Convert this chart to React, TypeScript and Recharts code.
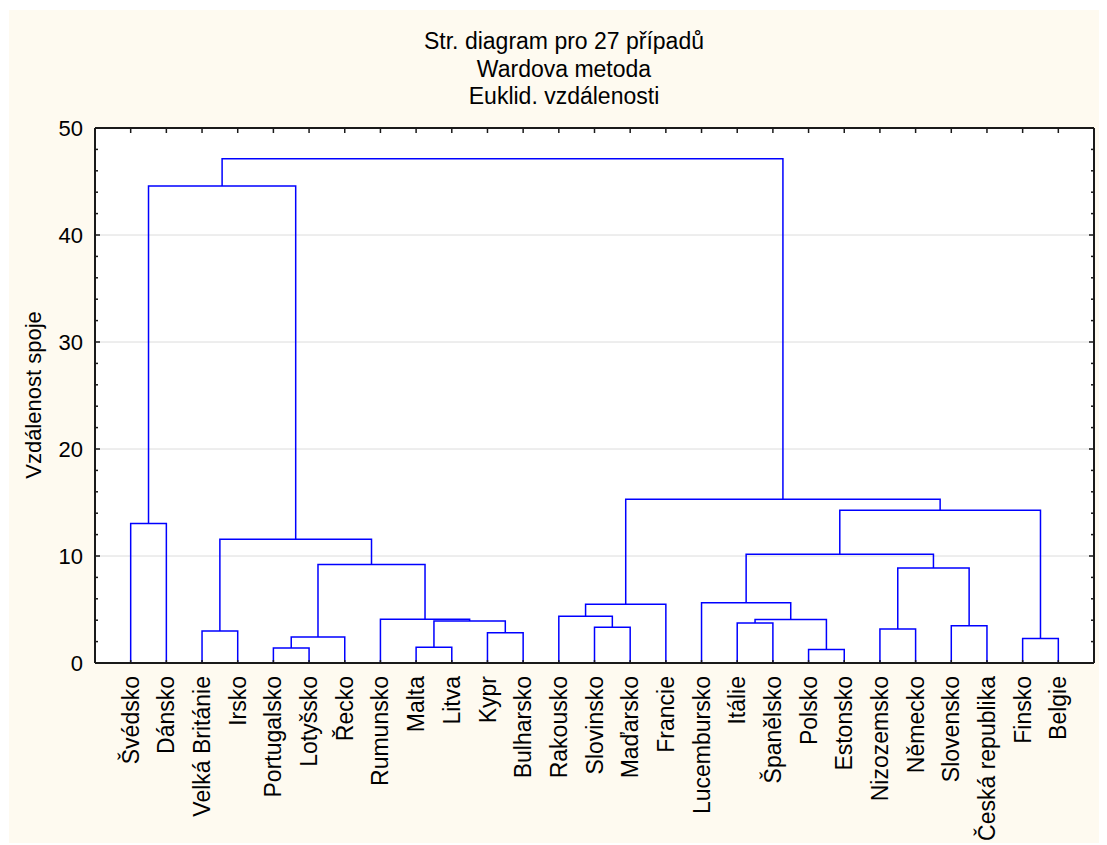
import React from 'react';
import { LineChart, Line, XAxis, YAxis, CartesianGrid } from 'recharts';

// Leaf labels (cases) in dendrogram order
const leafNames = [
  'Švédsko', 'Dánsko', 'Velká Británie', 'Irsko', 'Portugalsko', 'Lotyšsko', 'Řecko',
  'Rumunsko', 'Malta', 'Litva', 'Kypr', 'Bulharsko', 'Rakousko', 'Slovinsko', 'Maďarsko',
  'Francie', 'Lucembursko', 'Itálie', 'Španělsko', 'Polsko', 'Estonsko', 'Nizozemsko',
  'Německo', 'Slovensko', 'Česká republika', 'Finsko', 'Belgie',
];

// Merge steps: node ids < 27 are leaves, node 27+k is the result of merge k
const mergeA = [0, 2, 4, 29, 8, 10, 31, 7, 30, 28, 27, 13, 12, 39, 17, 19, 41, 16, 21, 23, 45, 44, 25, 48, 40, 37];
const mergeB = [1, 3, 5, 6, 9, 11, 32, 33, 34, 35, 36, 14, 38, 15, 18, 20, 42, 43, 22, 24, 46, 47, 26, 49, 50, 51];
const mergeHeight = [
  13.03, 3.0, 1.4, 2.43, 1.47, 2.83, 3.93, 4.1, 9.2, 11.57, 44.57, 3.33, 4.37, 5.5, 3.73,
  1.27, 4.07, 5.63, 3.17, 3.47, 8.87, 10.17, 2.3, 14.27, 15.3, 47.13,
];

const yDomain = [0, 50];
const yMinorTicks = [0, 2, 4, 6, 8, 10, 12, 14, 16, 18, 20, 22, 24, 26, 28, 30, 32, 34, 36, 38, 40, 42, 44, 46, 48, 50];
const gridValues = [10, 20, 30, 40];
const titleLines = ['Str. diagram pro 27 případů', 'Wardova metoda', 'Euklid. vzdálenosti'];
const yTitle = 'Vzdálenost spoje';

const FONT = '"Liberation Sans", Arial, sans-serif';
const BLUE = '#0000FF';
const FRAME = '#1a1a1a';

// build link series from the merge arrays
const nodePos: number[] = leafNames.map((_, i) => i + 1);
const nodeH: number[] = leafNames.map(() => 0);
const links: { x: number; y: number }[][] = [];
mergeA.forEach((a, k) => {
  const b = mergeB[k];
  const h = mergeHeight[k];
  links.push([
    { x: nodePos[a], y: nodeH[a] },
    { x: nodePos[a], y: h },
    { x: nodePos[b], y: h },
    { x: nodePos[b], y: nodeH[b] },
  ]);
  nodePos.push((nodePos[a] + nodePos[b]) / 2);
  nodeH.push(h);
});
const leafTicks = leafNames.map((_, i) => i + 1);

const W = 1098;
const H = 835;

const gridGen = (p: any) => {
  const sc = p && p.yAxis ? p.yAxis.scale : null;
  return gridValues.map((v) => {
    if (typeof sc === 'function') return sc(v);
    if (sc && typeof sc.map === 'function') return sc.map(v);
    const off = p.offset;
    return off.top + off.height * (1 - (v - yDomain[0]) / (yDomain[1] - yDomain[0]));
  });
};

const BottomTick = (props: any) => {
  const { x, y, payload } = props;
  const name = leafNames[payload.value - 1];
  return (
    <g>
      <line x1={x} y1={y} x2={x} y2={y - 3} stroke={FRAME} strokeWidth={1.5} />
      <text
        transform={`translate(${x},${y + 13}) rotate(-90)`}
        textAnchor="end"
        dy="0.35em"
        fontSize={23}
        fontFamily={FONT}
        fill="#000"
      >
        {name}
      </text>
    </g>
  );
};

const TopTick = (props: any) => {
  const { x, y } = props;
  return <line x1={x} y1={y} x2={x} y2={y + 5} stroke={FRAME} strokeWidth={1.5} />;
};

const LeftTick = (props: any) => {
  const { x, y, payload } = props;
  const major = payload.value % 10 === 0;
  return (
    <g>
      <line x1={x} y1={y} x2={x + (major ? 5 : 3)} y2={y} stroke={FRAME} strokeWidth={1.5} />
      {major && (
        <text x={x - 12} y={y} dy="0.35em" textAnchor="end" fontSize={22} fontFamily={FONT} fill="#000">
          {payload.value}
        </text>
      )}
    </g>
  );
};

const RightTick = (props: any) => {
  const { x, y, payload } = props;
  const major = payload.value % 10 === 0;
  return <line x1={x} y1={y} x2={x - (major ? 5 : 3)} y2={y} stroke={FRAME} strokeWidth={1.5} />;
};

export default function App() {
  return (
    <div style={{ position: 'relative', left: 1, top: 2, width: W, height: H, background: '#FEFAF0' }}>
      <LineChart width={W} height={H} margin={{ top: 117, right: 1, bottom: 0, left: 0 }}>
        <CartesianGrid
          xAxisId="b"
          yAxisId="l"
          vertical={false}
          fill="#ffffff"
          fillOpacity={1}
          stroke="#dcdcdc"
          strokeWidth={1}
          horizontalCoordinatesGenerator={gridGen}
        />
        <XAxis
          xAxisId="b"
          dataKey="x"
          type="number"
          domain={[0, 28]}
          allowDataOverflow
          ticks={leafTicks}
          interval={0}
          orientation="bottom"
          height={182}
          tickSize={0}
          tickMargin={0}
          tickLine={false}
          axisLine={{ stroke: FRAME, strokeWidth: 2 }}
          tick={<BottomTick />}
        />
        <XAxis
          xAxisId="t"
          dataKey="x"
          type="number"
          domain={[0, 28]}
          allowDataOverflow
          ticks={leafTicks}
          interval={0}
          orientation="top"
          height={1}
          tickSize={0}
          tickMargin={0}
          tickLine={false}
          axisLine={{ stroke: FRAME, strokeWidth: 2 }}
          tick={<TopTick />}
        />
        <YAxis
          yAxisId="l"
          type="number"
          domain={yDomain}
          allowDataOverflow
          ticks={yMinorTicks}
          interval={0}
          width={86}
          tickSize={0}
          tickMargin={0}
          tickLine={false}
          axisLine={{ stroke: FRAME, strokeWidth: 2 }}
          tick={<LeftTick />}
        />
        <YAxis
          yAxisId="r"
          type="number"
          orientation="right"
          domain={yDomain}
          allowDataOverflow
          ticks={yMinorTicks}
          interval={0}
          width={12}
          tickSize={0}
          tickMargin={0}
          tickLine={false}
          axisLine={{ stroke: FRAME, strokeWidth: 2 }}
          tick={<RightTick />}
        />
        {links.map((d, i) => (
          <Line
            key={i}
            xAxisId="b"
            yAxisId="l"
            data={d}
            dataKey="y"
            type="linear"
            stroke={BLUE}
            strokeWidth={1.5}
            dot={false}
            activeDot={false}
            isAnimationActive={false}
          />
        ))}
      </LineChart>
      <svg
        width={W}
        height={H}
        style={{ position: 'absolute', left: 0, top: 0, pointerEvents: 'none' }}
      >
        {titleLines.map((t, i) => (
          <text key={i} x={555} y={39 + i * 27.7} textAnchor="middle" fontSize={23} fontFamily={FONT} fill="#000">
            {t}
          </text>
        ))}
        <text
          transform={`translate(24,${385}) rotate(-90)`}
          textAnchor="middle"
          dy="0.35em"
          fontSize={22}
          fontFamily={FONT}
          fill="#000"
        >
          {yTitle}
        </text>
      </svg>
    </div>
  );
}
